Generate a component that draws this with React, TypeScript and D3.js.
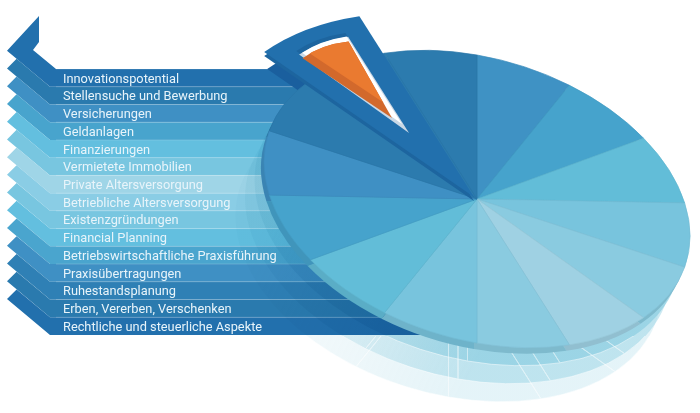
import React from "react";
import * as d3 from "d3";

const labels = ["Innovationspotential","Stellensuche und Bewerbung","Versicherungen","Geldanlagen","Finanzierungen","Vermietete Immobilien","Private Altersversorgung","Betriebliche Altersversorgung","Existenzgründungen","Financial Planning","Betriebswirtschaftliche Praxisführung","Praxisübertragungen","Ruhestandsplanung","Erben, Vererben, Verschenken","Rechtliche und steuerliche Aspekte"];
const rowColors = ["#2270ad","#2a7aae","#3f90c4","#48a4cd","#63bfdf","#78c6e0","#9fd5e7","#8acde5","#78c6e0","#63bfdf","#4aa5ce","#3f90c4","#2f80b5","#2a7aae","#2270ad"];
const sliceValues = [1,1,1,1,1,1,1,1,1,1,1,1,1,1];
const sliceColors = ["#3f92c4","#46a3cc","#62bdd8","#78c4dd","#8acbe0","#9fd1e3","#8acbe0","#78c4dd","#62bdd8","#46a3cc","#3f90c4","#2c7bae","#2c7bae","#2c7bae"];
const explodedIndex = 12;
const ghostOpacities = [0.75, 0.45, 0.24];

const W = 700, H = 413;
const mat = (dx = 0, dy = 0) => `matrix(213,37,0,144,${477 + dx},${199 + dy})`;
const NS: React.CSSProperties = { vectorEffect: "non-scaling-stroke" } as any;
const deg = Math.PI / 180;

export default function App() {
  const rows = d3.scaleBand<string>().domain(labels).range([69, 335]);
  const h = rows.bandwidth();
  const pie = d3.pie<number>().sort(null).value((d) => d);
  const arcs = pie(sliceValues);
  const arc = d3.arc<any>().innerRadius(0).outerRadius(1);
  const wedge = (r: number, padStart = 0, padEnd = 0) =>
    d3.arc<any>()({
      startAngle: arcs[explodedIndex].startAngle - padStart * deg,
      endAngle: arcs[explodedIndex].endAngle + padEnd * deg,
      innerRadius: 0,
      outerRadius: r,
    } as any) as string;
  const disc = arc({ startAngle: 0, endAngle: 2 * Math.PI } as any) as string;

  const rowPath = (label: string, i: number) => {
    const yt = rows(label)!;
    const yb = yt + h;
    const pts: [number, number][] =
      i === 0
        ? [[7, yb - 36], [39, 16], [39, 42], [33, 50], [56, yt], [440, yt], [440, yb], [50, yb]]
        : [[7, yb - 36], [16.6, yb - 45.6], [50, yt], [440, yt], [440, yb], [50, yb]];
    return d3.line()(pts)! + "Z";
  };
  const orange = wedge(0.52, 2.4, 2.6);

  return (
    <svg width={W} height={H} style={{ position: "absolute", left: 0, top: 0, background: "#fff" }}>
      <defs>
        <linearGradient id="ghostFade" x1="0" x2="1" y1="0.2" y2="0.5">
          <stop offset="0.15" stopColor="#a5d3e0" stopOpacity={0.35} />
          <stop offset="0.7" stopColor="#8fcfe2" stopOpacity={1} />
        </linearGradient>
        <clipPath id="pageClip"><rect x={0} y={0} width={W} height={405} /></clipPath>
        <clipPath id="lineClip"><rect x={0} y={336} width={W} height={69} /></clipPath>
        <clipPath id="orangeClip"><path d={orange} transform={mat(392 - 477, 118 - 199)} /></clipPath>
      </defs>

      {labels.map((l, i) => (
        <path key={l} d={rowPath(l, i)} fill={rowColors[i]} />
      ))}
      {labels.map((l) => (
        <line key={l} x1={56} x2={440} y1={rows(l)!} y2={rows(l)!} stroke="#fff" strokeOpacity={0.18} strokeWidth={1} />
      ))}

      <g clipPath="url(#pageClip)" style={{ mixBlendMode: "multiply" }}>
        {ghostOpacities.map((o, k) => {
          const n = 3 - k;
          return (
            <g key={k} transform={mat(-9.5 * n, 18 * n)} opacity={ghostOpacities[n - 1]}>
              <path d={disc} fill="url(#ghostFade)" />
            </g>
          );
        })}
      </g>
      <g clipPath="url(#lineClip)">
        {[1, 2, 3].map((n) => (
          <g key={n} transform={mat(-9.5 * n, 18 * n)} opacity={0.5}>
            {arcs.map((a, i) => (
              <path key={i} d={arc(a) as string} fill="none" stroke="#fff" strokeWidth={1} style={NS} />
            ))}
          </g>
        ))}
      </g>

      {labels.map((l) => (
        <text key={l} x={63} y={rows(l)! + 13.6} fontFamily="Roboto" fontSize={12.8} fill="#e8f4fa">{l}</text>
      ))}

      <path d={wedge(1.24, 1.2, 0)} transform={mat(0, 15)} fill="#1a5f9e" />

      <g transform={mat(-3, 6)}>
        {arcs.map((a, i) => (
          <path key={i} d={arc(a) as string} fill={d3.color(sliceColors[i])!.darker(0.25).formatHex()} />
        ))}
      </g>
      <g transform={mat()}>
        {arcs.map((a, i) => (
          <path key={i} d={arc(a) as string} fill={sliceColors[i]} stroke={d3.color(sliceColors[i])!.darker(0.12).formatHex()} strokeWidth={0.7} style={NS} />
        ))}
      </g>

      <path d={wedge(1.24, 1.2, 0)} transform={mat(-3, 2)} fill="#1d659f" />
      <path d={wedge(1.24, 1.2, 0)} transform={mat(-3, -2)} fill="#2270ad" />
      <path d={wedge(0.665)} transform={mat(407 - 477, 130 - 199)} fill="#1d659f" />
      <path d={wedge(0.66)} transform={mat(409 - 477, 133 - 199)} fill="#c9d8e6" />
      <path d={wedge(0.6, 0, 0)} transform={mat(402 - 477, 124 - 199)} fill="#fff" />
      <path d={orange} transform={mat(392 - 477, 118 - 199)} fill="#d2692c" />
      <g clipPath="url(#orangeClip)">
        <path d={wedge(0.62, 2.4, 2.6)} transform={mat(396 - 477, 111 - 199)} fill="#ea7a30" />
      </g>
    </svg>
  );
}
